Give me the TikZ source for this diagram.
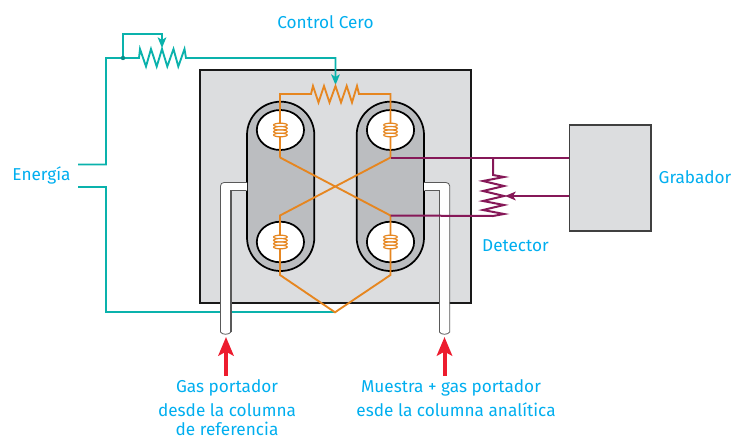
\documentclass[tikz,border=0pt]{standalone}
\usepackage{fontspec}
\setmainfont{Fira Sans}
\usetikzlibrary{arrows.meta}

\definecolor{cTeal}{RGB}{10,178,172}
\definecolor{cOrange}{RGB}{230,134,32}
\definecolor{cPurple}{RGB}{134,24,88}
\definecolor{cLabel}{RGB}{0,174,239}
\definecolor{cPanel}{RGB}{220,221,223}
\definecolor{cPill}{RGB}{187,189,192}
\definecolor{cRed}{RGB}{237,28,46}

\tikzset{every picture/.style={line width=0.75pt}}
\tikzset{
  tealwire/.style={draw=cTeal,line width=1.4pt},
  orangewire/.style={draw=cOrange,line width=1.4pt},
  purplewire/.style={draw=cPurple,line width=1.5pt},
  pillshape/.style={draw=black,fill=cPill,line width=1.3pt},
  cellshape/.style={draw=black,fill=white,line width=1.3pt},
  tubeshape/.style={fill=white,draw=none},
  tubeedge/.style={draw=black!65,line width=0.9pt},
  coilloop/.style={draw=cOrange,line width=0.9pt,fill=white},
  redarrow/.style={draw=cRed,line width=3pt,-{Stealth[length=14pt,width=11.5pt,inset=3pt]}},
  wiretip/.style={-{Stealth[length=8pt,width=6.5pt,inset=2pt]}},
  labeltext/.style={text=cLabel,font=\fontsize{12.9pt}{16pt}\selectfont,inner sep=0pt,align=center},
}

\begin{document}
\begin{tikzpicture}[x=0.75pt,y=0.75pt,yscale=-1,xscale=1]
\useasboundingbox (0,0) rectangle (731,439);

%Junctions
\coordinate (enTop) at (78,164.5);
\coordinate (enBot) at (78,187);
\coordinate (juncPot) at (123,58);
\coordinate (wiperPot) at (162,48);
\coordinate (wiperZero) at (335.5,85);
\coordinate (tl) at (280,157.5);
\coordinate (tr) at (390.5,157.5);
\coordinate (bl) at (280,215.5);
\coordinate (br) at (390.5,215.5);
\coordinate (bot) at (335,312.3);
\coordinate (detTop) at (493,157.5);

%Panel
\draw [draw=black!90,fill=cPanel,line width=1.3pt] (200,70) rectangle (471,303);
%Recorder
\node (grabadorBox) [draw=black!75,fill=cPanel,line width=1.3pt,minimum width=81.5*0.75pt,minimum height=106*0.75pt,inner sep=0pt] at (610.25,178) {};

%Pills
\draw [pillshape] (247,135) arc (180:360:33.65 and 33.3) -- (314.3,237.5) arc (0:180:33.65 and 33.5) -- cycle;
\draw [pillshape] (356.7,135) arc (180:360:33.65 and 33.3) -- (424,237.5) arc (0:180:33.65 and 33.5) -- cycle;
%Cells
\draw [cellshape] (280.4,130) ellipse (23.6 and 20);
\draw [cellshape] (390.5,130) ellipse (23.6 and 20);
\draw [cellshape] (280.4,242) ellipse (23.6 and 20.3);
\draw [cellshape] (390.5,242) ellipse (23.6 and 20.3);

%Teal wires
\draw [tealwire,wiretip] (enTop) -- (106,164.5) -- (106,58) -- (139,58) -- (140,49) -- (146,66.5) -- (151,49) -- (156.7,66.5) -- (162,49) -- (167.3,66.5) -- (173.5,49) -- (178.3,66.5) -- (184.5,49) -- (186,58) -- (335.5,58) -- (wiperZero);
\draw [tealwire,wiretip] (juncPot) -- (123,34) -- (162,34) -- (wiperPot);
\fill [cTeal!80!black] (juncPot) circle (2.2);
\draw [tealwire] (enBot) -- (106,187) -- (106,312.3) -- (bot);

%Tubes
\fill [tubeshape] (247,182.5) -- (224,182.5) .. controls (222,182.5) and (220.5,184) .. (220.5,186) -- (220.5,332) .. controls (222,335) and (229,335) .. (231,332) -- (231,190.5) -- (247,190.5) -- cycle;
\draw [tubeedge,line width=0.6pt] (246,182.5) -- (224,182.5) .. controls (222,182.5) and (220.5,184) .. (220.5,186) -- (220.5,332) .. controls (222,335) and (229,335) .. (231,332);
\draw [tubeedge] (231,332) -- (231,190.5) -- (246,190.5);
\fill [tubeshape] (424,182.5) -- (446,182.5) .. controls (448,182.5) and (449.7,184) .. (449.7,186) -- (449.7,332) .. controls (448,335) and (441,335) .. (439.3,332) -- (439.3,190.5) -- (424,190.5) -- cycle;
\draw [tubeedge,line width=0.6pt] (425,182.5) -- (446,182.5) .. controls (448,182.5) and (449.7,184) .. (449.7,186) -- (449.7,332) .. controls (448,335) and (441,335) .. (439.3,332);
\draw [tubeedge] (439.3,332) -- (439.3,190.5) -- (425,190.5);

%Orange bridge
\draw [orangewire] (tl) -- (280,94) -- (311,94) -- (313,86) -- (318.5,102.5) -- (324,86) -- (329.5,102.5) -- (335.5,86) -- (341,102.5) -- (346.7,86) -- (352,102.5) -- (357,86) -- (359,94) -- (390.5,94) -- (tr);
\draw [orangewire] (tl) -- (br) -- (390.5,275) -- (bot) -- (280,275) -- (bl) -- (tr);
%Coils
\foreach \cx/\cy in {280.4/130,390.5/130,280.4/242,390.5/242}{
  \foreach \dy in {-5,-1.7,1.7,5}{
    \draw [coilloop] (\cx,\cy+\dy) ellipse (6.8 and 1.8);
  }
}

%Purple wires
\draw [purplewire] (tr) -- (grabadorBox.west |- tr);
\draw [purplewire] (detTop) -- (493,175) -- (504,177) -- (483,181) -- (504,186) -- (483,191) -- (504,196) -- (483,201) -- (504,205) -- (483,210) -- (504,214) -- (493,216) -- (br);
\coordinate (detWiper) at (505,196);
\draw [purplewire,wiretip] (grabadorBox.west |- detWiper) -- (detWiper);

%Red arrows
\coordinate (arrLeft) at (226,337);
\coordinate (arrRight) at (444.5,337);
\draw [redarrow] (226,376) -- (arrLeft);
\draw [redarrow] (444.5,376) -- (arrRight);

% Text Node
\node (lblControl) [labeltext] at (325.5,22.5) {Control Cero};
\node (lblEnergia) [labeltext] at (41.5,175.5) {Energía};
\node (lblGrabador) [labeltext] at (695,177.5) {Grabador};
\node (lblDetector) [labeltext] at (515.5,245.5) {Detector};
\node (lblGasA) [labeltext] at (227,387.5) {Gas portador};
\node (lblGasB) [labeltext] at (227,410.5) {desde la columna};
\node (lblGasC) [labeltext] at (227,428.5) {de referencia};
\node (lblMuestraA) [labeltext] at (451,387.5) {Muestra + gas portador};
\node (lblMuestraB) [labeltext] at (456,409.5) {esde la columna analítica};

\end{tikzpicture}
\end{document}
